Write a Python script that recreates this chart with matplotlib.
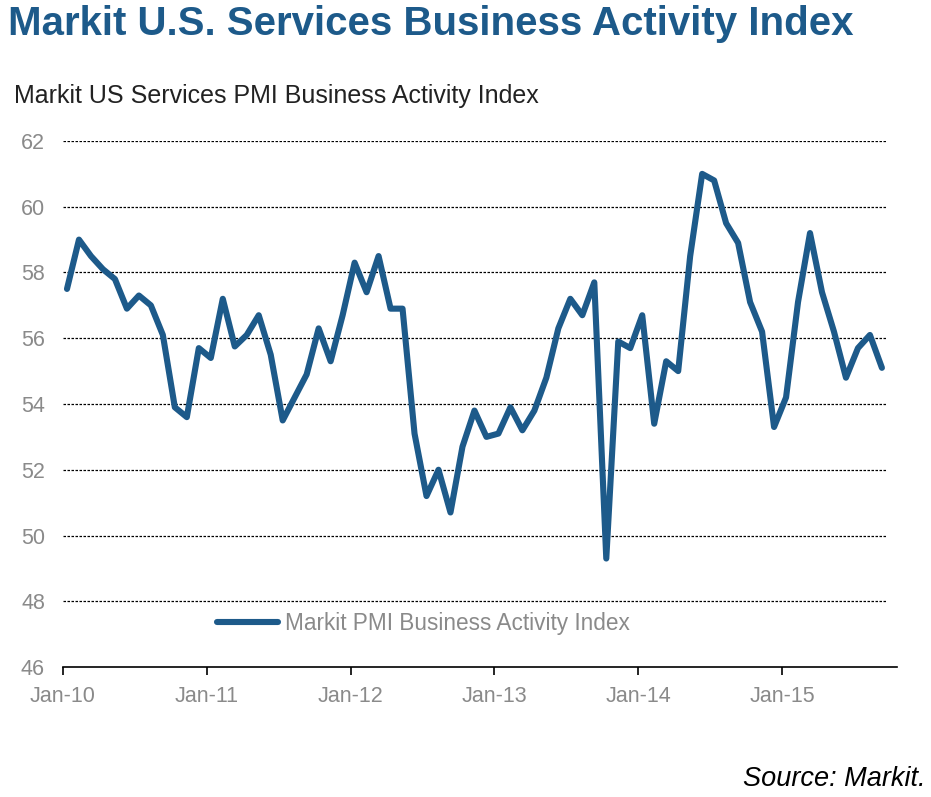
import matplotlib.pyplot as plt
import numpy as np

# monthly values, Jan-10 .. Sep-15
pmi = [57.5, 59.0, 58.5, 58.1, 57.8, 56.9, 57.3, 57.0, 56.1, 53.9, 53.6, 55.7,
       55.4, 57.2, 55.75, 56.1, 56.7, 55.5, 53.5, 54.2, 54.9, 56.3, 55.3, 56.7,
       58.3, 57.4, 58.5, 56.9, 56.9, 53.1, 51.2, 52.0, 50.7, 52.7, 53.8, 53.0,
       53.1, 53.9, 53.2, 53.8, 54.8, 56.3, 57.2, 56.7, 57.7, 49.3, 55.9, 55.7,
       56.7, 53.4, 55.3, 55.0, 58.5, 61.0, 60.8, 59.5, 58.9, 57.1, 56.2, 53.3,
       54.2, 57.1, 59.2, 57.4, 56.2, 54.8, 55.7, 56.1, 55.1]
year_labels = ["Jan-10", "Jan-11", "Jan-12", "Jan-13", "Jan-14", "Jan-15"]
y_ticks = [46, 48, 50, 52, 54, 56, 58, 60, 62]

blue = "#1d5a8a"
grey = "#8a8a8a"

fig = plt.figure(figsize=(9.31, 7.97), dpi=100)
ax = fig.add_axes([0.0677, 0.1631, 0.8958, 0.66])

x = np.arange(len(pmi))
ax.plot(x, pmi, color=blue, linewidth=4.4, solid_joinstyle="round",
        solid_capstyle="round", label="Markit PMI Business Activity Index", zorder=3)

ax.set_xlim(-0.33, 69.26)
ax.set_ylim(46, 62)

# dotted gridlines
for yv in y_ticks[1:]:
    ax.axhline(yv, xmin=0, xmax=0.988, color="black", linewidth=0.9,
               linestyle=(0, (2, 1.2)), zorder=1)

for s in ["top", "right", "left"]:
    ax.spines[s].set_visible(False)
ax.spines["bottom"].set_linewidth(1.2)

ax.set_xticks([12 * k - 0.33 for k in range(len(year_labels))])
ax.set_xticklabels(year_labels)
ax.set_yticks(y_ticks)
ax.tick_params(axis="x", direction="out", length=6, width=1.2, colors="black",
               labelcolor=grey, labelsize=15.5, pad=8)
ax.tick_params(axis="y", length=0, labelcolor=grey, labelsize=15.5, pad=13)
for lab in ax.get_xticklabels() + ax.get_yticklabels():
    lab.set_family("Liberation Sans")

leg = ax.legend(loc="center left", bbox_to_anchor=(0.185, 0.082), frameon=False,
                borderaxespad=0, borderpad=0, handlelength=2.7, handletextpad=0.3,
                prop={"family": "Liberation Sans", "size": 16.3})
for t in leg.get_texts():
    t.set_color(grey)

fig.text(0.009, 0.97, "Markit U.S. Services Business Activity Index",
         family=["Liberation Sans Narrow", "Liberation Sans"], weight="bold",
         color=blue, fontsize=29, va="center", ha="left")
fig.text(0.015, 0.879, "Markit US Services PMI Business Activity Index",
         family="Liberation Sans", color="#222222", fontsize=18, va="center")
fig.text(0.994, 0.022, "Source: Markit.", family="Liberation Sans",
         style="italic", fontsize=19.5, ha="right", va="center")

fig.savefig("out.png", dpi=100)
